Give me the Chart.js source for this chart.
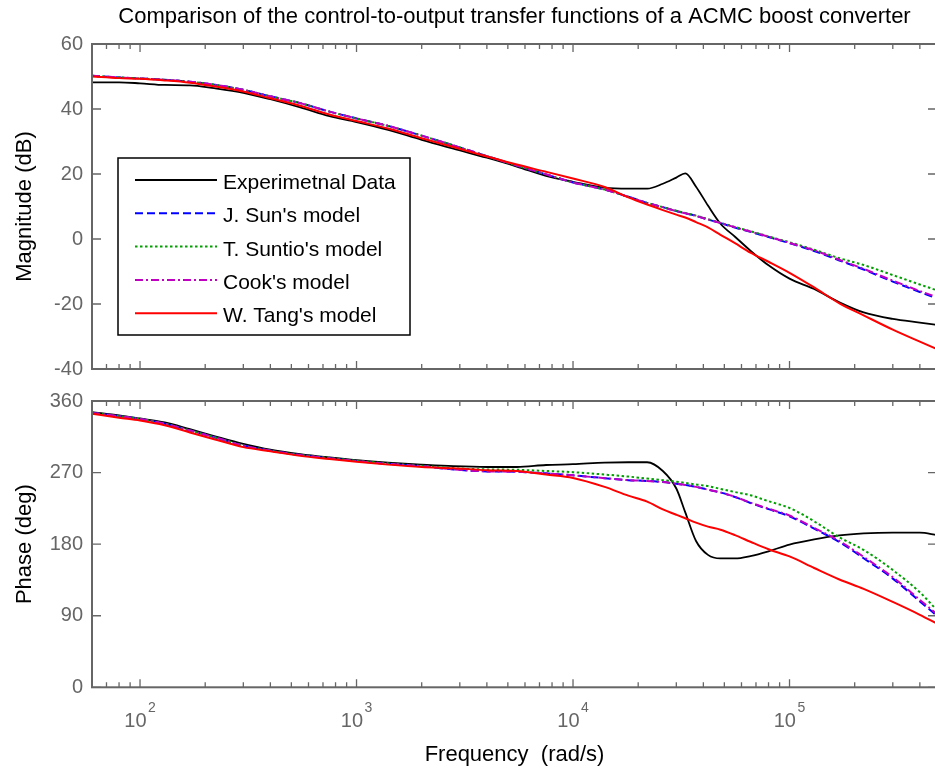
<!DOCTYPE html>
<html>
<head>
<meta charset="utf-8">
<script src="https://cdn.jsdelivr.net/npm/chart.js@4.4.1/dist/chart.umd.min.js"></script>
<style>
  html, body { margin: 0; padding: 0; background: #fff; overflow: hidden; width: 935px; height: 770px; }
  .plot { position: absolute; left: 0; width: 940px; height: 390px; }
  #magWrap { top: 0; }
  #phaseWrap { top: 380px; }
</style>
</head>
<body>
<div class="plot" id="magWrap"><canvas id="magChart" width="940" height="390"></canvas></div>
<div class="plot" id="phaseWrap"><canvas id="phaseChart" width="940" height="390"></canvas></div>
<script>
// Frequencies (rad/s), shared by every curve
const freq = [60, 80, 100, 130, 170, 220, 300, 400, 550, 750, 1000, 1400, 2000, 2800, 4000, 5500, 7500,
  10000, 14000, 18000, 22000, 26000, 30000, 33000, 37000, 42000, 48000, 56000, 66000, 80000,
  100000, 130000, 170000, 220000, 300000, 400000, 480000];

// Magnitude (dB)
const magExp = [48.2, 48.2, 47.9, 47.4, 47.3, 46.4, 45.0, 43.0, 40.5, 37.8, 36.0, 33.6, 30.5, 27.8, 25.0, 22.3, 19.4,
  17.6, 15.8, 15.5, 15.5, 17.0, 18.9, 20.2, 16.1, 10.3, 4.7, 0.7, -3.6, -8.1,
  -12.2, -15.4, -19.5, -22.6, -24.6, -25.7, -26.4];
const magSun = [50.2, 49.7, 49.4, 49.0, 48.4, 47.5, 45.9, 43.9, 41.8, 39.2, 37.1, 34.8, 31.8, 28.8, 25.5, 22.6, 19.9,
  17.4, 15.2, 13.0, 11.1, 9.8, 8.6, 7.9, 7.1, 6.0, 4.9, 3.5, 2.2, 0.6,
  -1.3, -3.7, -6.6, -9.4, -13.1, -16.3, -18.3];
const magSuntio = [50.2, 49.7, 49.4, 49.0, 48.4, 47.5, 45.9, 43.9, 41.8, 39.2, 37.1, 34.8, 31.8, 28.8, 25.5, 22.6, 19.9,
  17.4, 15.2, 13.0, 11.1, 9.8, 8.7, 8.0, 7.2, 6.1, 5.0, 3.7, 2.4, 0.8,
  -1.0, -3.3, -5.9, -8.0, -11.1, -14.0, -15.8];
const magCook = [50.2, 49.7, 49.4, 49.0, 48.4, 47.5, 45.9, 43.9, 41.8, 39.2, 37.1, 34.8, 31.8, 28.8, 25.5, 22.6, 19.9,
  17.4, 15.2, 13.0, 11.1, 9.8, 8.6, 7.9, 7.1, 6.0, 4.9, 3.6, 2.3, 0.7,
  -1.2, -3.5, -6.4, -9.2, -12.8, -16.0, -17.9];
const magTang = [50.0, 49.5, 49.3, 48.8, 48.1, 47.0, 45.4, 43.3, 41.0, 38.3, 36.3, 34.0, 31.0, 28.3, 25.4, 22.9, 20.7,
  18.6, 16.0, 12.8, 10.6, 8.9, 7.5, 6.6, 5.2, 3.6, 1.3, -1.3, -4.2, -7.0,
  -10.4, -14.9, -19.8, -23.5, -27.9, -31.6, -33.9];

// Phase (deg)
const phExp = [346, 342, 338, 333, 324.5, 316, 306.2, 298.8, 293.2, 289, 285.6, 282.5, 280, 278, 277, 277, 279.5,
  280.5, 282.5, 283, 283, 272, 250, 220, 184, 166.5, 162, 162, 165, 171,
  179.5, 186, 191, 193.5, 194.5, 194.5, 191.5];
const phSun = [345, 341, 337.5, 331.5, 323, 314.5, 304, 297.5, 292, 288, 284.5, 281, 278, 274, 271.5, 271, 269,
  266.5, 263, 260.5, 259.5, 258, 256, 254.5, 252, 248.5, 245, 239.3, 231.8, 224,
  215, 199.5, 182.6, 162.3, 136.7, 108, 90];
const phSuntio = [345, 341, 337.5, 331.5, 323, 314.5, 304, 297.5, 292, 288.5, 285, 281.5, 278.5, 275.5, 274, 273.5, 272,
  270.5, 267.5, 265, 262.5, 260.5, 258.5, 257, 255, 253, 249.5, 245.5, 241.5, 234,
  225.5, 208.7, 188.6, 172.7, 147.5, 119.4, 97];
const phCook = [345, 341, 337.5, 331.5, 323, 314.5, 304, 297.5, 292, 288, 284.5, 281, 278, 274, 271.5, 271, 269,
  266.5, 263, 260.5, 259.5, 258, 256, 254.5, 252, 248.5, 245, 239.5, 232.2, 224.6,
  216, 200.5, 184, 164, 138.5, 110, 92];
const phTang = [344, 339, 335.5, 329.5, 320.5, 312, 302, 296.8, 291, 287, 283.5, 280, 277, 275.5, 273, 272, 267.5,
  263.3, 252, 241, 233.5, 223.7, 217, 212.5, 207, 202, 198.2, 191.4, 183, 173.6,
  164.6, 150, 135.6, 123.8, 107.4, 91.2, 80];

const seriesNames = ['Experimetnal Data', "J. Sun's model", "T. Suntio's model", "Cook's model", "W. Tang's model"];
const magTicks = [-40, -20, 0, 20, 40, 60];
const phaseTicks = [0, 90, 180, 270, 360];
const decadeTicks = [100, 1000, 10000, 100000];
const decadeExponents = ['2', '3', '4', '5'];
const freqMin = 60, freqMax = 480000;

const FONT = "'Liberation Sans', Arial, sans-serif";
const AXIS_COLOR = '#666666';

// styles des courbes, dans l'ordre de la légende
const styles = [
  { color: '#000000', dash: [], width: 1.8 },
  { color: '#0000ff', dash: [8, 4], width: 2 },
  { color: '#00a000', dash: [2.5, 2.5], width: 2 },
  { color: '#c000c0', dash: [8, 3, 2, 3], width: 2 },
  { color: '#ff0000', dash: [], width: 2 }
];

// graduations mineures du log : 1..9 x 10^n
const xTickValues = [];
for (let d = 10; d <= 100000; d *= 10) {
  for (let m = 1; m <= 9; m++) {
    const v = m * d;
    if (v >= freqMin && v <= freqMax) xTickValues.push(v);
  }
}

function makeDatasets(series) {
  return series.map((ys, i) => ({
    label: seriesNames[i],
    data: freq.map((f, k) => ({ x: f, y: ys[k] })),
    borderColor: styles[i].color,
    borderDash: styles[i].dash,
    borderWidth: styles[i].width,
    pointRadius: 0,
    fill: false,
    cubicInterpolationMode: 'monotone',
    order: series.length - i
  }));
}

// Boîte, graduations vers l'intérieur et libellés 10^n (façon MATLAB)
const matlabAxes = {
  id: 'matlabAxes',
  afterDatasetsDraw(chart, args, opts) {
    const { ctx, chartArea: a, scales } = chart;
    const xs = scales.x, ys = scales.y;
    ctx.save();
    ctx.strokeStyle = AXIS_COLOR;
    ctx.lineWidth = 1.3;
    ctx.beginPath();
    xTickValues.forEach(v => {
      const px = xs.getPixelForValue(v);
      const len = decadeTicks.includes(v) ? 8 : 5;
      ctx.moveTo(px, a.top); ctx.lineTo(px, a.top + len);
      ctx.moveTo(px, a.bottom); ctx.lineTo(px, a.bottom - len);
    });
    ys.ticks.forEach(t => {
      const py = ys.getPixelForValue(t.value);
      ctx.moveTo(a.left, py); ctx.lineTo(a.left + 9, py);
      ctx.moveTo(a.right, py); ctx.lineTo(a.right - 9, py);
    });
    ctx.stroke();
    ctx.lineWidth = 2;
    ctx.strokeRect(a.left, a.top, a.right - a.left, a.bottom - a.top);

    if (opts.xLabels) {
      ctx.fillStyle = AXIS_COLOR;
      ctx.textBaseline = 'alphabetic';
      ctx.textAlign = 'left';
      decadeTicks.forEach((v, i) => {
        const px = xs.getPixelForValue(v);
        ctx.font = '20px ' + FONT;
        const w10 = ctx.measureText('10').width;
        ctx.font = '14px ' + FONT;
        const wExp = ctx.measureText(decadeExponents[i]).width;
        const x0 = px - (w10 + 1.5 + wExp) / 2;
        ctx.font = '20px ' + FONT;
        ctx.fillText('10', x0, a.bottom + 40);
        ctx.font = '14px ' + FONT;
        ctx.fillText(decadeExponents[i], x0 + w10 + 1.5, a.bottom + 24.5);
      });
    }
    ctx.restore();
  }
};

// Légende encadrée dans le graphe du module
const boxLegend = {
  id: 'boxLegend',
  afterDraw(chart) {
    const { ctx, chartArea: a } = chart;
    const left = a.left + 26, top = a.top + 114, w = 292, h = 177;
    ctx.save();
    ctx.fillStyle = '#ffffff';
    ctx.fillRect(left, top, w, h);
    ctx.strokeStyle = '#000000';
    ctx.lineWidth = 1.5;
    ctx.strokeRect(left, top, w, h);
    ctx.font = '21px ' + FONT;
    ctx.textBaseline = 'alphabetic';
    ctx.textAlign = 'left';
    seriesNames.forEach((name, i) => {
      const y = top + 22 + i * 33.3;
      ctx.strokeStyle = styles[i].color;
      ctx.lineWidth = styles[i].width;
      ctx.setLineDash(styles[i].dash);
      ctx.beginPath();
      ctx.moveTo(left + 17, y);
      ctx.lineTo(left + 99, y);
      ctx.stroke();
      ctx.setLineDash([]);
      ctx.fillStyle = '#000000';
      ctx.fillText(name, left + 105, y + 9);
    });
    ctx.restore();
  }
};

function yScale(ticks, title) {
  return {
    min: ticks[0],
    max: ticks[ticks.length - 1],
    afterBuildTicks: s => { s.ticks = ticks.map(v => ({ value: v })); },
    afterFit: s => { s.width = 92; },
    grid: { display: false, drawTicks: false },
    border: { display: false },
    ticks: { color: AXIS_COLOR, font: { family: FONT, size: 20 }, padding: 9 },
    title: { display: true, text: title, color: '#000', font: { family: FONT, size: 22 }, padding: { top: 12, bottom: 0 } }
  };
}

function xScale(height, title) {
  return {
    type: 'logarithmic',
    min: freqMin,
    max: freqMax,
    afterFit: s => { s.height = height; },
    grid: { display: false, drawTicks: false },
    border: { display: false },
    ticks: { display: false },
    title: title
      ? { display: true, text: title, color: '#000', font: { family: FONT, size: 22 }, padding: { top: 0, bottom: 2 } }
      : { display: false }
  };
}

new Chart(document.getElementById('magChart'), {
  type: 'line',
  data: { datasets: makeDatasets([magExp, magSun, magSuntio, magCook, magTang]) },
  options: {
    responsive: false,
    animation: false,
    layout: { padding: { left: 0, right: 3, top: 0, bottom: 0 } },
    scales: {
      x: xScale(390 - 372.7, null),
      y: yScale(magTicks, 'Magnitude (dB)')
    },
    plugins: {
      legend: { display: false },
      tooltip: { enabled: false },
      title: {
        display: true,
        fullSize: false,
        text: 'Comparison of the control-to-output transfer functions of a ACMC boost converter',
        color: '#000',
        font: { family: FONT, size: 22, weight: 'normal' },
        padding: { top: 4, bottom: 13.6 }
      },
      matlabAxes: { xLabels: false }
    }
  },
  plugins: [matlabAxes, boxLegend]
});

new Chart(document.getElementById('phaseChart'), {
  type: 'line',
  data: { datasets: makeDatasets([phExp, phSun, phSuntio, phCook, phTang]) },
  options: {
    responsive: false,
    animation: false,
    layout: { padding: { left: 0, right: 3, top: 16.7, bottom: 0 } },
    scales: {
      x: xScale(390 - 307.3, 'Frequency  (rad/s)'),
      y: yScale(phaseTicks, 'Phase (deg)')
    },
    plugins: {
      legend: { display: false },
      tooltip: { enabled: false },
      matlabAxes: { xLabels: true }
    }
  },
  plugins: [matlabAxes]
});
</script>
</body>
</html>
